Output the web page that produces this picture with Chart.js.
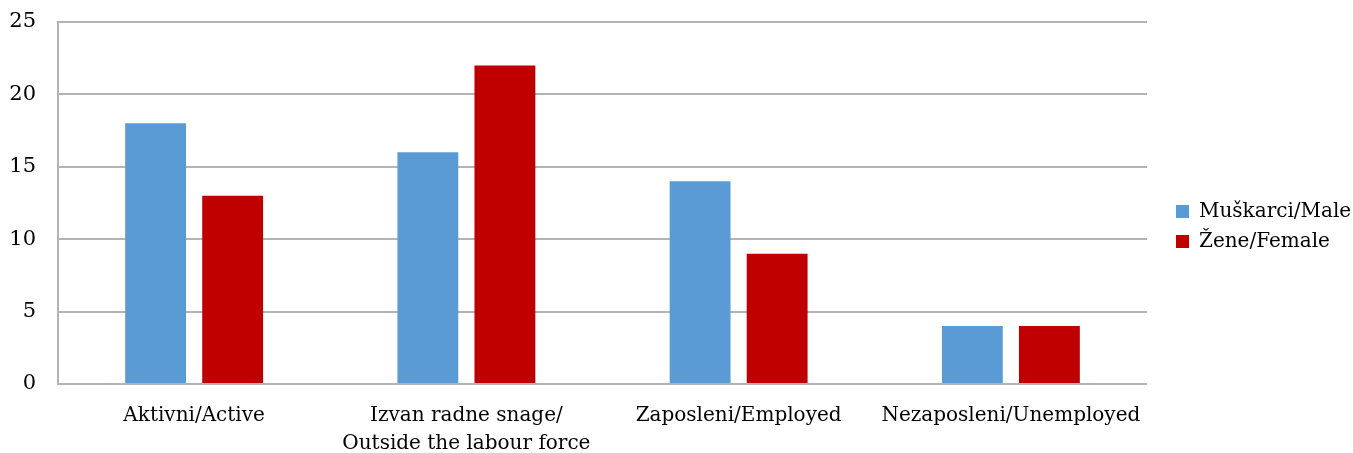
<!DOCTYPE html>
<html>
<head>
<meta charset="utf-8">
<script src="https://cdn.jsdelivr.net/npm/chart.js@4/dist/chart.umd.min.js"></script>
<style>
  body { margin: 0; background: #ffffff; }
  #chart { display: block; }
</style>
</head>
<body>
<canvas id="chart" width="1353" height="453"></canvas>
<script>
// Categories and values
const categories = [
    'Aktivni/Active',
    ['Izvan radne snage/', 'Outside the labour force'],
    'Zaposleni/Employed',
    'Nezaposleni/Unemployed'
];
const maleValues = [18, 16, 14, 4];
const femaleValues = [13, 22, 9, 4];
const seriesNames = ['Muškarci/Male', 'Žene/Female'];

const fontFamily = '"DejaVu Serif", "Liberation Serif", serif';
const gridColor = '#b4b4b4';

const ctx = document.getElementById('chart').getContext('2d');
const myChart = new Chart(ctx, {
    type: 'bar',
    data: {
        labels: categories,
        datasets: [
            {
                label: seriesNames[0],
                data: maleValues,
                backgroundColor: '#5b9bd5',
                categoryPercentage: 0.566,
                barPercentage: 0.79
            },
            {
                label: seriesNames[1],
                data: femaleValues,
                backgroundColor: '#c00000',
                categoryPercentage: 0.566,
                barPercentage: 0.79
            }
        ]
    },
    options: {
        responsive: false,
        animation: false,
        layout: {
            padding: 0
        },
        plugins: {
            legend: {
                position: 'right',
                align: 'center',
                maxWidth: 187,
                labels: {
                    font: { family: fontFamily, size: 20 },
                    color: '#000000',
                    boxWidth: 13,
                    boxHeight: 13,
                    padding: 10
                }
            },
            tooltip: { enabled: false }
        },
        scales: {
            x: {
                afterFit: function (scale) { scale.height = 69; },
                grid: { display: false },
                border: { display: false },
                ticks: {
                    color: '#000000',
                    font: { family: fontFamily, size: 20, lineHeight: 1.4 },
                    maxRotation: 0,
                    padding: 10
                }
            },
            y: {
                min: 0,
                max: 25,
                afterFit: function (scale) {
                    scale.width = 58;
                    scale.paddingTop = 22;
                },
                ticks: {
                    stepSize: 5,
                    color: '#000000',
                    font: { family: fontFamily, size: 21 },
                    padding: 22
                },
                grid: {
                    color: gridColor,
                    lineWidth: 2,
                    drawTicks: false
                },
                border: { color: gridColor, width: 2 }
            },
            // empty axis that only keeps a gap between the plot and the legend
            gap: {
                type: 'linear',
                position: 'right',
                afterFit: function (scale) { scale.width = 19; },
                grid: { display: false },
                border: { display: false },
                ticks: { display: false }
            }
        }
    }
});
</script>
</body>
</html>
